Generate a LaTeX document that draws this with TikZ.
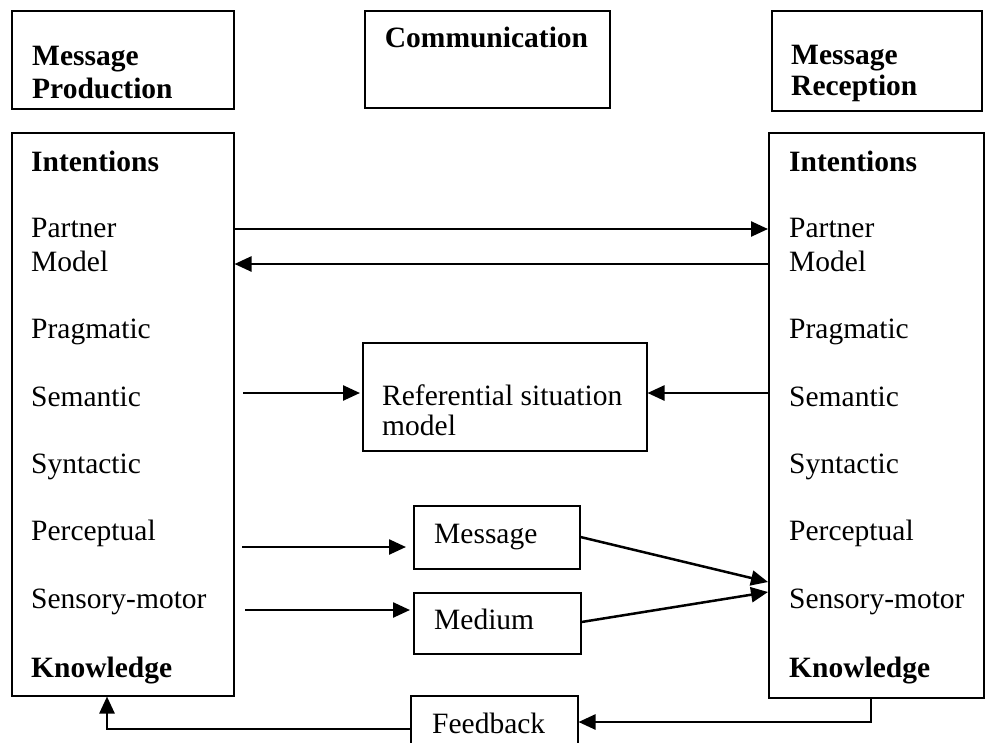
\documentclass[tikz,border=0pt]{standalone}
\usepackage{fontspec}
\setmainfont{Liberation Serif}
\usetikzlibrary{arrows.meta}

\begin{document}
\begin{tikzpicture}[x=1pt, y=-1pt,
  box/.style={draw, line width=1.5pt, inner sep=0pt, anchor=north west},
  lbl/.style={inner sep=0pt, anchor=base west, font=\fontsize{29.5}{34}\selectfont},
  blbl/.style={lbl, font=\fontsize{29.5}{34}\selectfont\bfseries},
  arr/.style={line width=2.5pt, -{Triangle[length=17pt,width=15pt]}}]
\useasboundingbox (0,0) rectangle (988,742);
\clip (0,0) rectangle (988,742);

% header boxes
\node[box, minimum width=222pt, minimum height=98pt] (prod) at (11,10) {};
\node[blbl] (prodA) at (32,65) {Message};
\node[blbl] (prodB) at (32,98) {Production};

\node[box, minimum width=245pt, minimum height=97pt] (comm) at (364,10) {};
\node[blbl, anchor=base] (commA) at (486.5,47) {Communication};

\node[box, minimum width=210pt, minimum height=100pt] (recp) at (771,10) {};
\node[blbl] (recpA) at (791,64) {Message};
\node[blbl] (recpB) at (791,95) {Reception};

% the two processing columns
\node[box, minimum width=222pt, minimum height=563pt] (lbox) at (11,132) {};
\node[box, minimum width=215pt, minimum height=565pt] (rbox) at (768,132) {};

\foreach \side/\x in {L/31, R/789} {
  \node[blbl] (int\side) at (\x,171) {Intentions};
  \node[lbl]  (par\side) at (\x,237) {Partner};
  \node[lbl]  (mod\side) at (\x,271) {Model};
  \node[lbl]  (pra\side) at (\x,338) {Pragmatic};
  \node[lbl]  (sem\side) at (\x,406) {Semantic};
  \node[lbl]  (syn\side) at (\x,473) {Syntactic};
  \node[lbl]  (per\side) at (\x,540) {Perceptual};
  \node[lbl]  (sen\side) at (\x,608) {Sensory-motor};
  \node[blbl] (kno\side) at (\x,677) {Knowledge};
}

% shared middle boxes
\node[box, minimum width=284pt, minimum height=108pt] (ref) at (362,342) {};
\node[lbl] (refA) at (382,405) {Referential situation};
\node[lbl] (refB) at (382,435) {model};

\node[box, minimum width=166pt, minimum height=63pt] (msg) at (413,505) {};
\node[lbl] (msgA) at (434,543) {Message};

\node[box, minimum width=167pt, minimum height=61pt] (med) at (413,592) {};
\node[lbl] (medA) at (434,629) {Medium};

\node[box, minimum width=167pt, minimum height=80pt] (fb) at (410,695) {};
\node[lbl] (fbA) at (432,733) {Feedback};

% connector levels and free ends
\coordinate (yA) at (0,229);
\coordinate (yB) at (0,264);
\coordinate (yC) at (0,393);
\coordinate (sC) at (243,393);
\coordinate (sM) at (242,547);
\coordinate (sD) at (245,610);
\coordinate (eM) at (768,582);
\coordinate (eD) at (768,592);
\coordinate (fR1) at (871,697);
\coordinate (fR2) at (871,722);
\coordinate (fL1) at (107,729);

% partner model exchange
\draw[arr] (lbox.east |- yA) -- (rbox.west |- yA);
\draw[arr] (rbox.west |- yB) -- (lbox.east |- yB);

% referential situation model
\draw[arr, shorten >=2pt] (sC) -- (ref.west |- yC);
\draw[arr] (rbox.west |- yC) -- (ref.east |- yC);

% message and medium
\draw[arr, shorten >=7pt] (sM) -- (msg.west |- sM);
\draw[arr, shorten >=3pt] (sD) -- (med.west |- sD);
\draw[arr] (msg.east |- 0,537) -- (eM);
\draw[arr] (med.east |- 0,622) -- (eD);

% feedback loop
\draw[arr] (fR1) -- (fR2) -- (fb.east |- fR2);
\draw[arr] (fb.west |- fL1) -- (fL1) -- (lbox.south -| fL1);
\end{tikzpicture}
\end{document}
